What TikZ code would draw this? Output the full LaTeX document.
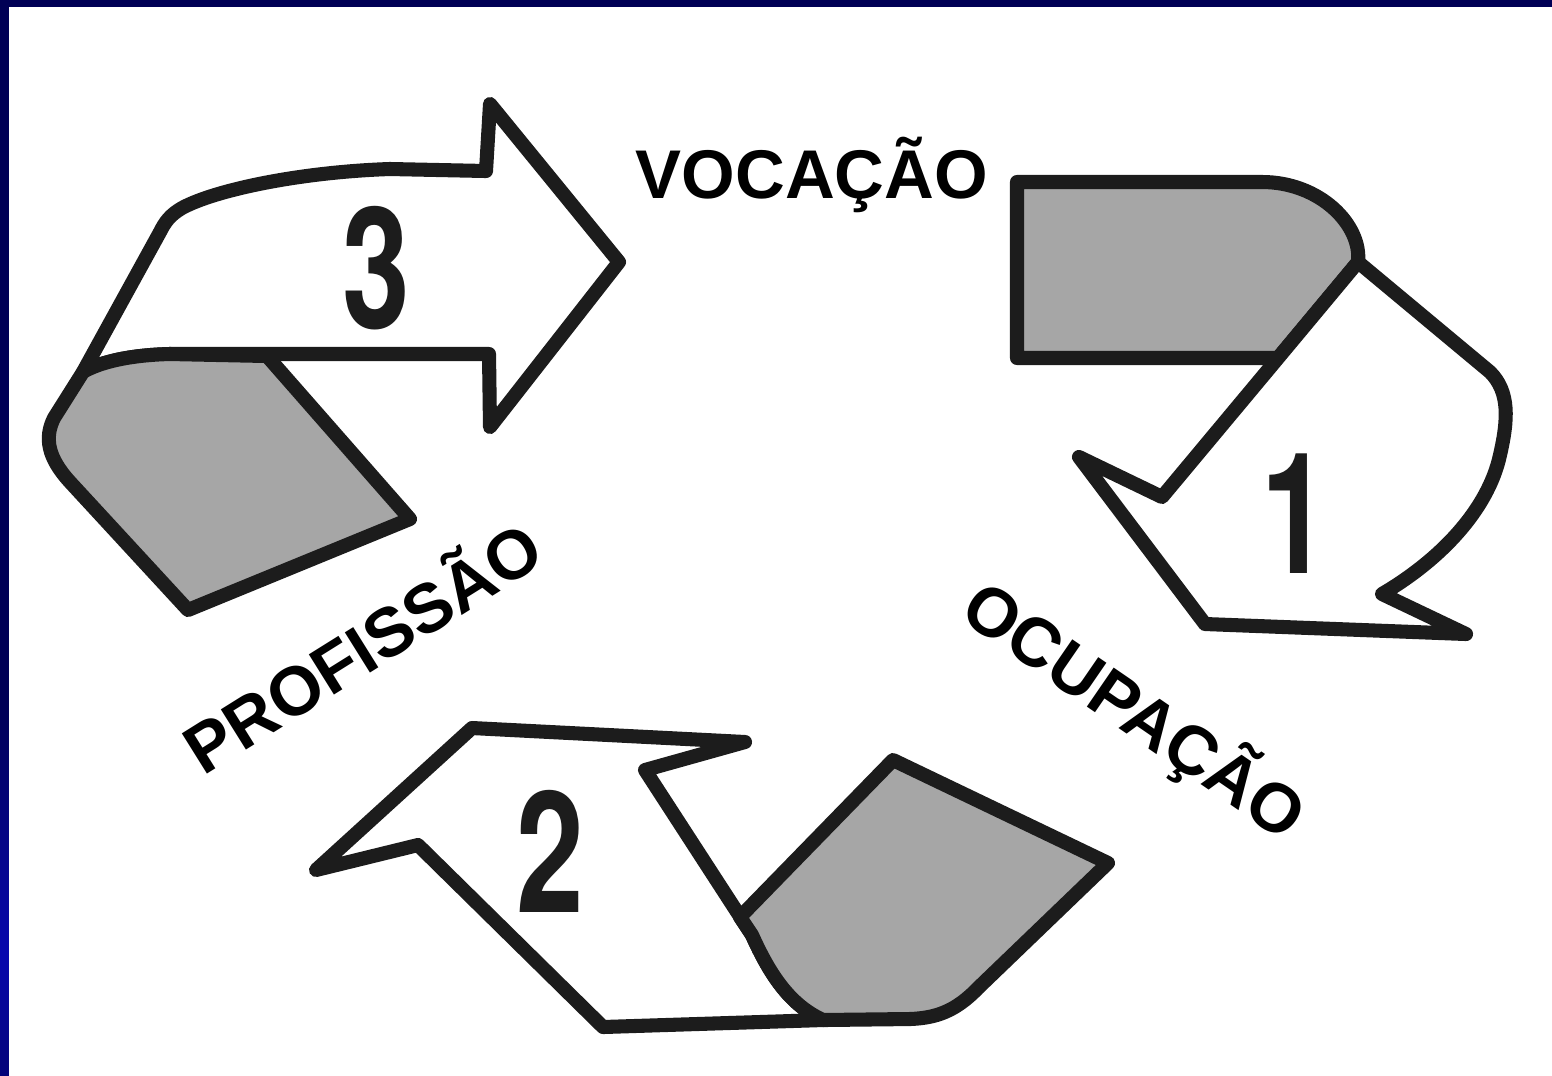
\documentclass[tikz,border=0pt]{standalone}
\usepackage{fontspec}
\setmainfont{Liberation Sans}[BoldFont={Liberation Sans Bold}]
\newfontfamily\digitfont{TeX Gyre Heros}
\definecolor{navy}{RGB}{0,0,85}
\definecolor{brightblue}{RGB}{8,8,175}
\definecolor{inkgray}{RGB}{28,28,28}
\definecolor{foldgray}{RGB}{166,166,166}
\tikzset{
  arrowbody/.style={draw=inkgray, fill=white, line width=4pt, line join=round},
  foldpart/.style={draw=inkgray, fill=foldgray, line width=4pt, line join=round},
  lbl/.style={anchor=base, inner sep=0pt, font=\fontsize{19.6}{22}\selectfont\bfseries},
  numtxt/.style={inner sep=0pt, transform shape, text=inkgray, font=\digitfont\fontsize{48}{50}\selectfont\bfseries}
}
\begin{document}
\begin{tikzpicture}[x=0.01cm,y=-0.01cm]
\useasboundingbox (0,0) rectangle (1552,1075);
\node[lbl] (voc) at (812,198) {VOCAÇÃO};
\fill[navy] (0,0) rectangle (1552,7);
\fill[navy] (0,0) rectangle (9,700);
\foreach \i in {0,...,24} {\pgfmathtruncatemacro{\p}{4*\i}\fill[brightblue!\p!navy] (0,700+10*\i) rectangle (9,711+10*\i);}
\foreach \i in {0,...,12} {\pgfmathtruncatemacro{\p}{100-5*\i}\fill[brightblue!\p!navy] (0,950+10*\i) rectangle (9,961+10*\i);}

\filldraw[arrowbody] (619,262) -- (490,104) -- (486,171) -- (390,169) .. controls (300,172) and (215,190) .. (182,208) .. controls (170,215) and (165,222) .. (160,232) -- (83,372) .. controls (100,362) and (130,355) .. (170,354) -- (489,354) -- (490,427) -- cycle;
\filldraw[foldpart] (267,356) -- (410,519) -- (188,610) -- (70,482) .. controls (48,458) and (44,438) .. (54,418) -- (83,372) .. controls (100,362) and (130,355) .. (170,354) -- cycle;

\filldraw[foldpart] (1017,182) -- (1262,182) .. controls (1320,182) and (1362,225) .. (1358,262) -- (1278,358) -- (1017,358) -- cycle;
\filldraw[arrowbody] (1358,262) -- (1490,372) .. controls (1510,392) and (1508,420) .. (1500,455) .. controls (1488,510) and (1440,560) .. (1382,594) -- (1466,634) -- (1205,624) -- (1079,457) -- (1162,497) -- (1278,358) -- cycle;

\filldraw[arrowbody] (472,728) -- (745,742) -- (645,770) -- (752,935) .. controls (770,975) and (790,1005) .. (823,1020) -- (603,1027) -- (418,845) -- (316,870) -- cycle;
\filldraw[foldpart] (740,917) -- (893,760) -- (1108,863) -- (978,988) .. controls (955,1012) and (935,1018) .. (910,1019) -- (823,1020) .. controls (790,1005) and (770,975) .. (752,935) -- cycle;

\node[lbl, rotate=32] (prof) at (376,669) {PROFISSÃO};
\node[lbl, rotate=-34.5] (ocup) at (1121,730) {OCUPAÇÃO};
\begin{scope}[shift={(376,268)}, xscale=0.72]\node[numtxt] (n3) at (0,0) {3};\end{scope}
\begin{scope}[shift={(1295,514)}, xscale=0.72]\node[numtxt] (n1) at (0,0) {1};\end{scope}
\begin{scope}[shift={(550,851)}, xscale=0.72]\node[numtxt] (n2) at (0,0) {2};\end{scope}
\end{tikzpicture}
\end{document}
